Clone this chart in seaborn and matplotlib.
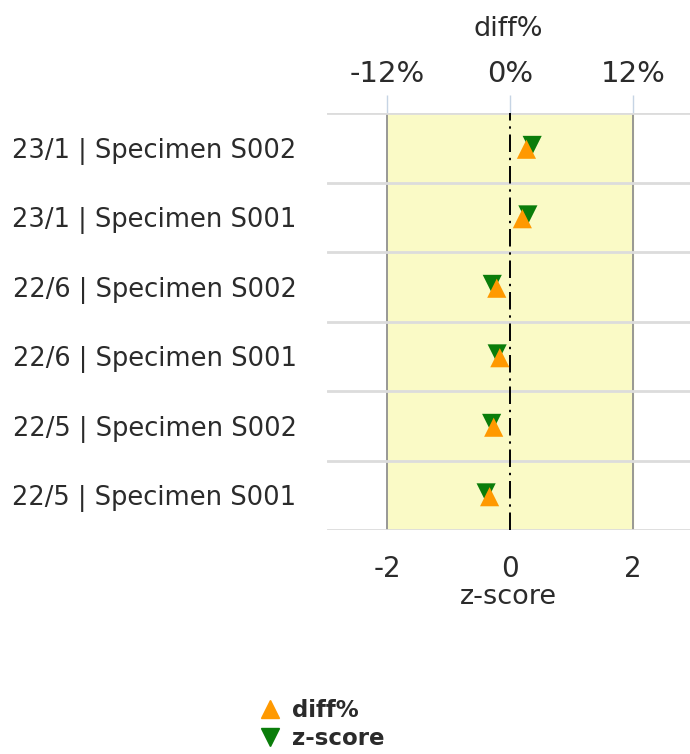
import numpy as np
import pandas as pd
import matplotlib
matplotlib.use("Agg")
import matplotlib.pyplot as plt
from matplotlib.lines import Line2D
import seaborn as sns

sns.set_style("white")
plt.rcParams['font.family'] = ['DejaVu Sans']
plt.rcParams['axes.unicode_minus'] = False

# data (top row first)
labels = ["23/1 | Specimen S002", "23/1 | Specimen S001",
          "22/6 | Specimen S002", "22/6 | Specimen S001",
          "22/5 | Specimen S002", "22/5 | Specimen S001"]
diff_pct = [1.6, 1.2, -1.3, -1.0, -1.6, -2.0]
z_score = [0.36, 0.29, -0.29, -0.21, -0.30, -0.39]
pct_per_z = 6.0  # 2 z-score units == 12%

df = pd.DataFrame({"label": labels, "diff": diff_pct, "z": z_score})
df["row"] = np.arange(len(df))
df["diff_z"] = df["diff"] / pct_per_z

ORANGE = "#ff9900"
GREEN = "#0a7d0a"
TXT = "#2b2b2b"

fig = plt.figure(figsize=(6.9, 7.54), dpi=100)
ax = fig.add_axes([0.474, 0.297, 0.526, 0.553])

# acceptance band and zero line
ax.axvspan(-2, 2, color="#fafac6", zorder=0)
for xv in (-2, 2):
    ax.axvline(xv, color="#909090", lw=1.3, zorder=1)
ax.axvline(0, color="black", lw=1.4, ls=(0, (9, 3, 1.2, 3)), zorder=2)

# row separators
for b in np.arange(len(df) + 1) - 0.5:
    ax.axhline(b, color="#dcdcdc", lw=2, zorder=1)

sns.scatterplot(x=df["z"], y=df["row"] - 0.035, marker="v", s=190,
                color=GREEN, edgecolor="none", ax=ax, zorder=3)
sns.scatterplot(x=df["diff_z"], y=df["row"] + 0.02, marker="^", s=190,
                color=ORANGE, edgecolor="none", ax=ax, zorder=4)

ax.set_xlim(-2.98, 2.93)
ax.set_ylim(len(df) - 0.5, -0.5)
ax.set_yticks(df["row"])
ax.set_yticklabels(df["label"], fontsize=18.5, color=TXT)
ax.tick_params(axis="y", length=0, pad=22)
ax.set_xticks([-2, 0, 2])
ax.set_xticklabels(["-2", "0", "2"])
ax.tick_params(axis="x", length=13, width=1, color="#c6d4e4",
                labelsize=20, labelcolor=TXT, pad=5)
ax.set_xlabel("z-score", fontsize=19.5, color=TXT, labelpad=1)
ax.set_ylabel("")
for sp in ax.spines.values():
    sp.set_visible(False)

top = ax.secondary_xaxis("top", functions=(lambda z: z * pct_per_z,
                                           lambda d: d / pct_per_z))
top.set_xticks([-12, 0, 12])
top.set_xticklabels(["-12%", "0%", "12%"])
top.tick_params(axis="x", length=13, width=1, color="#c6d4e4",
                labelsize=21, labelcolor=TXT, pad=5)
top.set_xlabel("diff%", fontsize=19.5, color=TXT, labelpad=17)
for sp in top.spines.values():
    sp.set_visible(False)

handles = [
    Line2D([], [], marker="^", ls="none", color=ORANGE, markersize=13),
    Line2D([], [], marker="v", ls="none", color=GREEN, markersize=13),
]
leg = fig.legend(handles, ["diff%", "z-score"], loc="upper left",
                 bbox_to_anchor=(0.355, 0.088), frameon=False,
                 prop={"weight": "bold", "size": 16.5},
                 labelspacing=0.2, handletextpad=0.35, handlelength=1.2,
                 borderpad=0)
for t in leg.get_texts():
    t.set_color(TXT)

fig.savefig("out.png", dpi=100)
